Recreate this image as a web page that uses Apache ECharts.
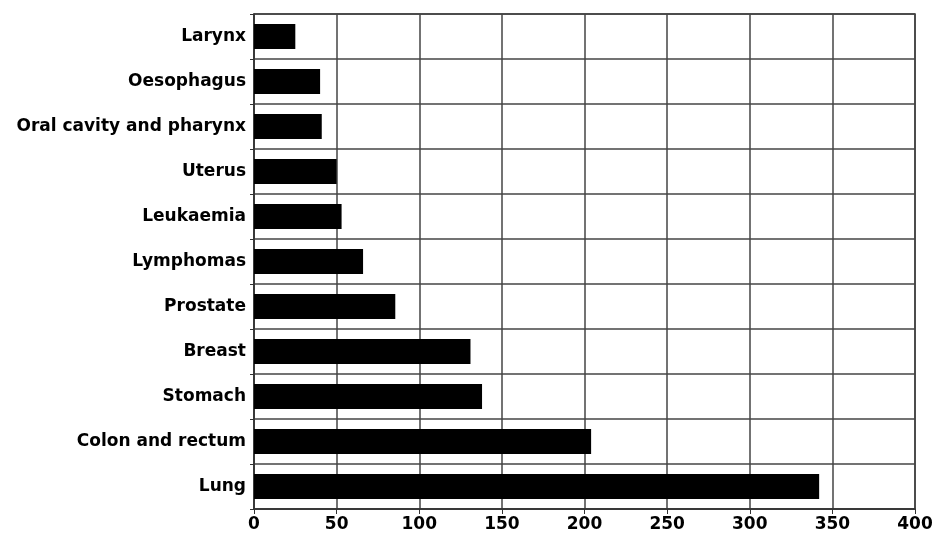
<!DOCTYPE html>
<html>
<head>
<meta charset="utf-8">
<script src="https://cdn.jsdelivr.net/npm/echarts@6/dist/echarts.min.js"></script>
<style>html,body{margin:0;padding:0;background:#fff}#c{width:934px;height:541px}</style>
</head>
<body>
<div id="c"></div>
<script>
const categories = ["Larynx","Oesophagus","Oral cavity and pharynx","Uterus","Leukaemia","Lymphomas","Prostate","Breast","Stomach","Colon and rectum","Lung"];
const values = [25, 40, 41, 50, 53, 66, 85.5, 131, 138, 204, 342];
const xTicks = [0, 50, 100, 150, 200, 250, 300, 350, 400];

const chart = echarts.init(document.getElementById('c'), null, {renderer: 'canvas'});
const font = {fontFamily: 'Verdana, DejaVu Sans', fontWeight: 'bold', fontSize: 17, color: '#000'};
chart.setOption({
  animation: false,
  backgroundColor: '#fff',
  grid: {left: 254, right: 19, top: 14, bottom: 32, containLabel: false, outerBoundsMode: 'none',
         show: true, borderColor: '#333', borderWidth: 1.5},
  xAxis: {
    type: 'value', min: xTicks[0], max: xTicks[xTicks.length - 1], interval: 50,
    axisLine: {show: true, lineStyle: {color: '#333', width: 1.5}},
    axisTick: {show: true, length: 5, lineStyle: {color: '#333'}},
    axisLabel: Object.assign({margin: 7}, font),
    splitLine: {show: true, lineStyle: {color: '#444', width: 1.5}}
  },
  yAxis: {
    type: 'category', data: categories, inverse: true,
    axisLine: {show: true, lineStyle: {color: '#333', width: 1.5}},
    axisTick: {show: true, length: 4, lineStyle: {color: '#333'}},
    axisLabel: Object.assign({margin: 8}, font),
    splitLine: {show: true, lineStyle: {color: '#444', width: 1.5}}
  },
  series: [{
    type: 'bar', data: values, barWidth: 25,
    itemStyle: {color: '#000'}
  }]
});
</script>
</body>
</html>
